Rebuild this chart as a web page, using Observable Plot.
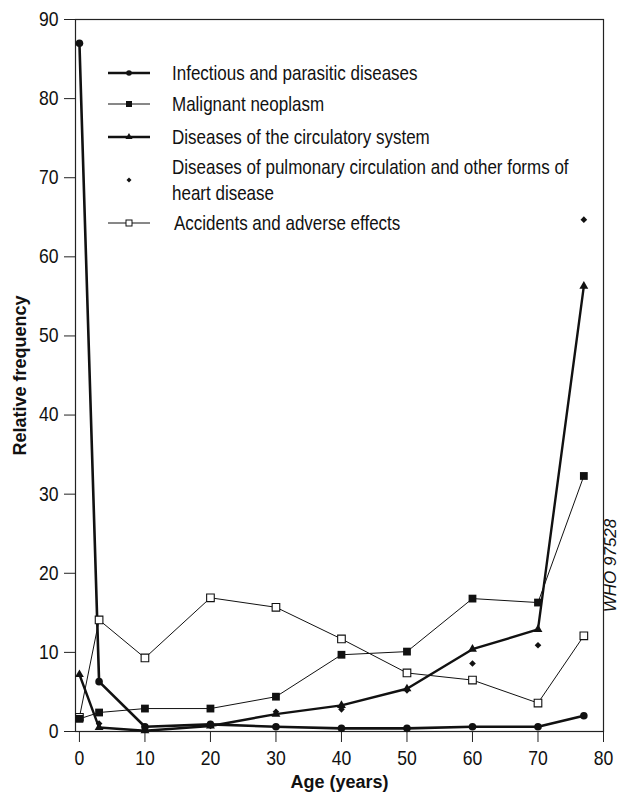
<!DOCTYPE html>
<html><head><meta charset="utf-8">
<script src="https://cdn.jsdelivr.net/npm/d3@7"></script>
<script src="https://cdn.jsdelivr.net/npm/@observablehq/plot@0.6"></script>
<style>
body{margin:0;background:#fff;}
#wrap{position:relative;width:625px;height:802px;background:#fff;}
#wrap svg{display:block;}
#legend{position:absolute;left:0;top:0;pointer-events:none;}
</style></head><body><div id="wrap"></div>
<script>
// ---- data ----
const ages = [0, 3, 10, 20, 30, 40, 50, 60, 70, 77];
const infectious  = [87, 6.3, 0.6, 0.9, 0.6, 0.4, 0.4, 0.6, 0.6, 2.0];
const malignant   = [1.6, 2.4, 2.9, 2.9, 4.4, 9.7, 10.1, 16.8, 16.3, 32.3];
const circulatory = [7.2, 0.5, 0.1, 0.7, 2.2, 3.3, 5.4, 10.4, 12.9, 56.3];
const pulmonary   = [null, 1.0, 0.3, 0.7, 2.5, 2.8, 5.2, 8.6, 10.9, 64.7];
const accidents   = [1.8, 14.1, 9.3, 16.9, 15.7, 11.7, 7.4, 6.5, 3.6, 12.1];
const seriesNames = [
  "Infectious and parasitic diseases",
  "Malignant neoplasm",
  "Diseases of the circulatory system",
  "Diseases of pulmonary circulation and other forms of heart disease",
  "Accidents and adverse effects"
];
const xTicks = [0, 10, 20, 30, 40, 50, 60, 70, 80];
const yTicks = [0, 10, 20, 30, 40, 50, 60, 70, 80, 90];
const xLabel = "Age (years)";
const yLabel = "Relative frequency";
const codeLabel = "WHO 97528";

const FONT = '"Liberation Sans", Arial, sans-serif';
const toRows = vals => ages.map((a, i) => ({age: a, value: vals[i]})).filter(d => d.value != null);
const inf = toRows(infectious), mal = toRows(malignant), cir = toRows(circulatory),
      pul = toRows(pulmonary), acc = toRows(accidents);

const chart = Plot.plot({
  width: 625, height: 802,
  marginLeft: 75, marginRight: 22, marginTop: 19, marginBottom: 71,
  style: {fontFamily: FONT, fontSize: "20px", color: "#111", background: "#fff"},
  x: {domain: [-0.6, 80], label: null},
  y: {domain: [0, 90], label: null},
  marks: [
    Plot.axisX({ticks: xTicks, tickSize: 11, tickPadding: 8, fontSize: 20, stroke: "#222"}),
    Plot.axisY({ticks: yTicks, tickSize: 11, tickPadding: 6, fontSize: 20, stroke: "#222"}),
    Plot.frame({stroke: "#222", strokeWidth: 1.2}),
    Plot.line(acc, {x: "age", y: "value", stroke: "#111", strokeWidth: 1}),
    Plot.line(mal, {x: "age", y: "value", stroke: "#111", strokeWidth: 1}),
    Plot.line(cir, {x: "age", y: "value", stroke: "#111", strokeWidth: 2.4}),
    Plot.line(inf, {x: "age", y: "value", stroke: "#111", strokeWidth: 2.6}),
    Plot.dot(acc, {x: "age", y: "value", symbol: "square", r: 4.3, fill: "#fff", stroke: "#111", strokeWidth: 1.1}),
    Plot.dot(mal, {x: "age", y: "value", symbol: "square", r: 4.4, fill: "#111"}),
    Plot.dot(cir, {x: "age", y: "value", symbol: "triangle", r: 3.3, fill: "#111"}),
    Plot.dot(pul, {x: "age", y: "value", symbol: "diamond2", r: 3.0, fill: "#111"}),
    Plot.dot(inf, {x: "age", y: "value", symbol: "circle", r: 3.8, fill: "#111"}),
    Plot.text([xLabel], {frameAnchor: "bottom", dy: 51, lineAnchor: "middle", fontWeight: "bold", fontSize: 18, fill: "#111"}),
    Plot.text([yLabel], {frameAnchor: "left", dx: -55, rotate: -90, textAnchor: "middle", fontWeight: "bold", fontSize: 18, fill: "#111"}),
    Plot.text([codeLabel], {frameAnchor: "bottom-right", dx: 12, dy: -166, rotate: -90, textAnchor: "middle", fontStyle: "italic", fontSize: 17, fill: "#111"})
  ]
});
document.getElementById("wrap").appendChild(chart);

// condensed look for tick labels (Frutiger Condensed style)
d3.select(chart).selectAll('g[aria-label="x-axis tick label"] text, g[aria-label="y-axis tick label"] text')
  .attr("transform", function() { return (this.getAttribute("transform") || "") + " scale(0.88,1)"; });

// ---- legend overlay ----
const lg = d3.select("#wrap").append("svg").attr("id", "legend").attr("width", 625).attr("height", 802)
  .style("font-family", FONT).style("font-size", "20px");
const rowsY = [73, 104, 137, 180, 223];
const lineW = [2.4, 1, 2.4, 0, 1];
const mk = [
  g => g.append("circle").attr("r", 2.8).attr("fill", "#111"),
  g => g.append("rect").attr("x", -3).attr("y", -3).attr("width", 6).attr("height", 6).attr("fill", "#111"),
  g => g.append("path").attr("d", d3.symbol(d3.symbolTriangle, 22)()).attr("fill", "#111"),
  g => g.append("path").attr("d", d3.symbol(d3.symbolDiamond2, 16)()).attr("fill", "#111"),
  g => g.append("rect").attr("x", -3).attr("y", -3).attr("width", 6).attr("height", 6).attr("fill", "#fff").attr("stroke", "#111").attr("stroke-width", 1)
];
const SX = 0.85;
const addText = (g, x, y, s) => g.append("text")
  .attr("transform", `translate(${x},${y}) scale(${SX},1)`).attr("dy", "0.35em").attr("fill", "#111").text(s);
seriesNames.forEach((name, i) => {
  const g = lg.append("g").attr("transform", `translate(0,${rowsY[i]})`);
  if (lineW[i] > 0) g.append("line").attr("x1", 108).attr("x2", 150).attr("stroke", "#111").attr("stroke-width", lineW[i]);
  mk[i](g.append("g").attr("transform", "translate(129,0)"));
  const tx = i === 4 ? 174 : 172;
  if (i === 3) {
    addText(g, tx, -13, "Diseases of pulmonary circulation and other forms of");
    addText(g, tx, 13, "heart disease");
  } else {
    addText(g, tx, 0, name);
  }
});
</script></body></html>
